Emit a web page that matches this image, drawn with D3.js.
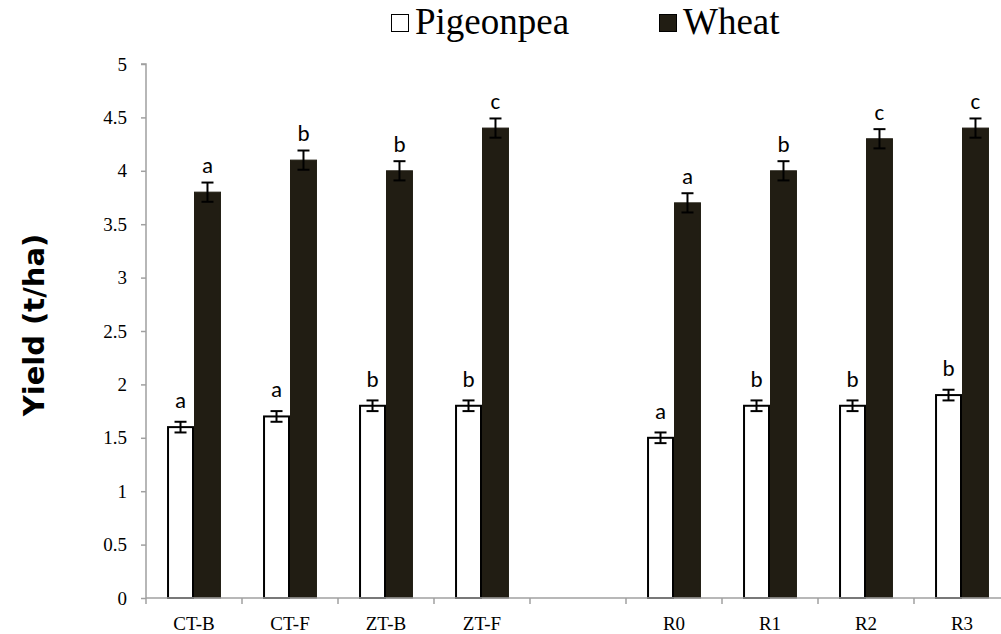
<!DOCTYPE html>
<html>
<head>
<meta charset="utf-8">
<script src="https://cdn.jsdelivr.net/npm/d3@7"></script>
<style>
  body { margin: 0; background: #fff; }
  svg { display: block; }
</style>
</head>
<body>
<div class="chart"></div>
<script>
// data, "" is the empty slot between the two groups
let categories = ["CT-B", "CT-F", "ZT-B", "ZT-F", "", "R0", "R1", "R2", "R3"];
let pigeonpea = [1.6, 1.7, 1.8, 1.8, null, 1.5, 1.8, 1.8, 1.9];
let wheat = [3.8, 4.1, 4.0, 4.4, null, 3.7, 4.0, 4.3, 4.4];
let pigeonpeaErr = [0.05, 0.05, 0.05, 0.05, null, 0.05, 0.05, 0.05, 0.05];
let wheatErr = [0.09, 0.09, 0.09, 0.09, null, 0.09, 0.09, 0.09, 0.09];
let pigeonpeaLetters = ["a", "a", "b", "b", "", "a", "b", "b", "b"];
let wheatLetters = ["a", "b", "b", "c", "", "a", "b", "c", "c"];
let yTicks = [0, 0.5, 1, 1.5, 2, 2.5, 3, 3.5, 4, 4.5, 5];
let seriesNames = ["Pigeonpea", "Wheat"];

function run() {
    let w = 1001, h = 634;
    let svg = d3.select(".chart").append("svg")
        .attr("width", w)
        .attr("height", h);

    let left = 146, bottom = 598, top = 64;
    let band = 96;
    let serif = "'Liberation Serif', 'Times New Roman', serif";

    let x = d3.scaleBand()
        .domain(d3.range(categories.length))
        .range([left, left + band * categories.length])
        .padding(0);
    let x1 = d3.scaleBand()
        .domain([0, 1])
        .range([0, band])
        .paddingOuter(0.78)
        .paddingInner(0);
    let y = d3.scaleLinear()
        .domain([0, 5])
        .range([bottom, top]);

    let series = [
        { name: seriesNames[0], values: pigeonpea, err: pigeonpeaErr, letters: pigeonpeaLetters,
          fill: "#ffffff", stroke: "#000000", sw: 2 },
        { name: seriesNames[1], values: wheat, err: wheatErr, letters: wheatLetters,
          fill: "#211d13", stroke: "#211d13", sw: 1 }
    ];

    // bars
    series.forEach(function(s, si) {
        let rows = s.values.map(function(v, i) { return { i: i, v: v, e: s.err[i], l: s.letters[i] }; })
            .filter(function(d) { return d.v != null; });
        let g = svg.append("g");
        g.selectAll("rect")
            .data(rows)
            .enter()
            .append("rect")
            .attr("x", function(d) { return x(d.i) + x1(si) + s.sw / 2; })
            .attr("y", function(d) { return y(d.v); })
            .attr("width", x1.bandwidth() - s.sw)
            .attr("height", function(d) { return y(0) - y(d.v); })
            .attr("fill", s.fill)
            .attr("stroke", s.stroke)
            .attr("stroke-width", s.sw);

        // error bars
        let cx = function(d) { return x(d.i) + x1(si) + x1.bandwidth() / 2; };
        g.selectAll("line.err")
            .data(rows)
            .enter()
            .append("line")
            .attr("class", "err")
            .attr("x1", cx).attr("x2", cx)
            .attr("y1", function(d) { return y(d.v + d.e); })
            .attr("y2", function(d) { return y(d.v - d.e); })
            .attr("stroke", "#000")
            .attr("stroke-width", 2);
        [1, -1].forEach(function(sign) {
            g.selectAll("line.cap" + sign)
                .data(rows)
                .enter()
                .append("line")
                .attr("x1", function(d) { return cx(d) - 6; })
                .attr("x2", function(d) { return cx(d) + 6; })
                .attr("y1", function(d) { return y(d.v + sign * d.e); })
                .attr("y2", function(d) { return y(d.v + sign * d.e); })
                .attr("stroke", "#000")
                .attr("stroke-width", 2);
        });

        // letters
        g.selectAll("text")
            .data(rows)
            .enter()
            .append("text")
            .text(function(d) { return d.l; })
            .attr("x", cx)
            .attr("y", function(d) { return y(d.v) - 19; })
            .attr("text-anchor", "middle")
            .attr("font-family", "Carlito, Calibri, sans-serif")
            .attr("font-size", "23px")
            .attr("fill", "#000");
    });

    // y axis
    let yAxis = svg.append("g")
        .attr("transform", "translate(" + left + ",0)")
        .call(d3.axisLeft(y).tickValues(yTicks).tickSize(5).tickPadding(14)
            .tickFormat(function(d) { return String(d); }));
    yAxis.select(".domain").attr("stroke", "#a0a0a0").attr("stroke-width", 1.5)
        .attr("d", "M-5," + top + "H0V" + bottom);
    yAxis.selectAll(".tick line").attr("stroke", "#a0a0a0").attr("stroke-width", 1.5);
    yAxis.selectAll(".tick text")
        .attr("font-family", serif)
        .attr("font-size", "19px")
        .attr("fill", "#000");

    // x axis: ticks on the band edges, labels at band centres
    let xg = svg.append("g");
    xg.append("line")
        .attr("x1", left).attr("x2", w)
        .attr("y1", bottom).attr("y2", bottom)
        .attr("stroke", "#a0a0a0").attr("stroke-width", 1.5);
    xg.selectAll("line.tick")
        .data(d3.range(categories.length))
        .enter()
        .append("line")
        .attr("class", "tick")
        .attr("x1", function(d) { return x(d); })
        .attr("x2", function(d) { return x(d); })
        .attr("y1", bottom).attr("y2", bottom + 6)
        .attr("stroke", "#a0a0a0").attr("stroke-width", 1.5);
    xg.selectAll("text")
        .data(categories)
        .enter()
        .append("text")
        .text(function(d) { return d; })
        .attr("x", function(d, i) { return x(i) + x.bandwidth() / 2; })
        .attr("y", 630)
        .attr("text-anchor", "middle")
        .attr("font-family", serif)
        .attr("font-size", "19px")
        .attr("fill", "#000");

    // y title
    svg.append("text")
        .text("Yield (t/ha)")
        .attr("transform", "translate(44,325) rotate(-90)")
        .attr("text-anchor", "middle")
        .attr("font-family", "'DejaVu Sans', Verdana, sans-serif")
        .attr("font-weight", "bold")
        .attr("font-size", "29px")
        .attr("fill", "#000");

    // legend
    let legendX = [391, 659];
    series.forEach(function(s, si) {
        let lg = svg.append("g").attr("transform", "translate(" + legendX[si] + ",14)");
        lg.append("rect")
            .attr("x", 0.5).attr("y", 0.5)
            .attr("width", 17).attr("height", 17)
            .attr("fill", s.fill)
            .attr("stroke", "#000")
            .attr("stroke-width", 1);
        lg.append("text")
            .text(s.name)
            .attr("x", 24)
            .attr("y", 20)
            .attr("font-family", serif)
            .attr("font-size", "37px")
            .attr("fill", "#000");
    });
}
window.addEventListener("load", run);
</script>
</body>
</html>
